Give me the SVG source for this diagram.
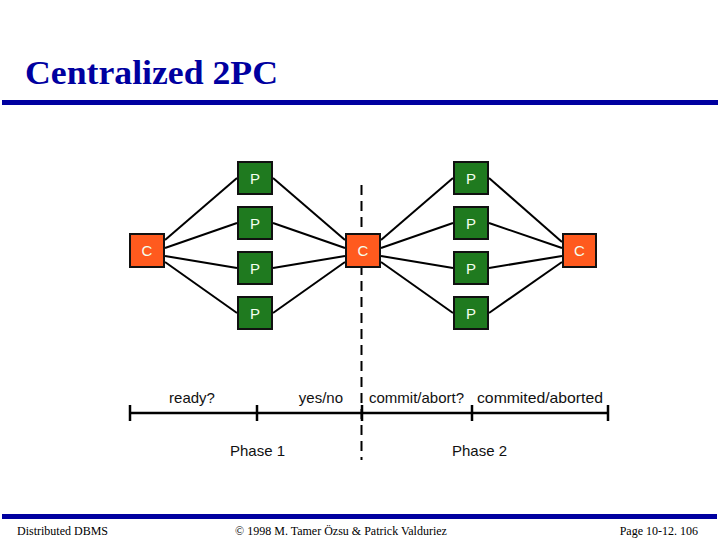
<svg xmlns="http://www.w3.org/2000/svg" width="720" height="540" viewBox="0 0 720 540">
<style>
.title{font-family:"Liberation Serif","Times New Roman",serif;font-weight:bold;font-size:33px;fill:#0000a0}
.bar{fill:#0000a0}
.p rect{fill:#1f7a1f;stroke:#111;stroke-width:2}
.c rect{fill:#ff5a1e;stroke:#111;stroke-width:2}
.lbl{font-family:"Liberation Sans",Arial,sans-serif;font-size:15px;fill:#f4fff0;text-anchor:middle}
.conn line{stroke:#000;stroke-width:2}
.tl line{stroke:#000;stroke-width:2.5}
.t{font-family:"Liberation Sans",Arial,sans-serif;font-size:15px;fill:#111}
.foot{font-family:"Liberation Serif","Times New Roman",serif;font-size:12px;fill:#000}
</style>
<rect width="720" height="540" fill="#fff"/>
<text class="title" x="25" y="84" textLength="253" lengthAdjust="spacingAndGlyphs">Centralized 2PC</text>
<rect class="bar" x="2" y="100" width="716" height="5"/>

<line x1="361.5" y1="185" x2="361.5" y2="460" stroke="#000" stroke-width="2" stroke-dasharray="10 6"/>

<g id="connectors" class="conn">
<line x1="165" y1="240" x2="237" y2="178"/>
<line x1="165" y1="248" x2="237" y2="223"/>
<line x1="165" y1="256" x2="237" y2="268"/>
<line x1="165" y1="262" x2="237" y2="313"/>
<line x1="273" y1="178" x2="345" y2="240"/>
<line x1="273" y1="223" x2="345" y2="248"/>
<line x1="273" y1="268" x2="345" y2="256"/>
<line x1="273" y1="313" x2="345" y2="262"/>
<line x1="381" y1="240" x2="453" y2="178"/>
<line x1="381" y1="248" x2="453" y2="223"/>
<line x1="381" y1="256" x2="453" y2="268"/>
<line x1="381" y1="262" x2="453" y2="313"/>
<line x1="489" y1="178" x2="562" y2="242"/>
<line x1="489" y1="223" x2="562" y2="248"/>
<line x1="489" y1="268" x2="562" y2="256"/>
<line x1="489" y1="313" x2="562" y2="262"/>
</g>

<g id="c1" class="c"><rect x="130" y="234" width="34" height="33"/><text class="lbl" x="147" y="256">C</text></g>
<g id="c2" class="c"><rect x="346" y="234" width="34" height="33"/><text class="lbl" x="363" y="256">C</text></g>
<g id="c3" class="c"><rect x="563" y="234" width="33" height="33"/><text class="lbl" x="579.5" y="256">C</text></g>

<g id="p1a" class="p"><rect x="238" y="162" width="34" height="32"/><text class="lbl" x="255" y="184">P</text></g>
<g id="p2a" class="p"><rect x="238" y="207" width="34" height="32"/><text class="lbl" x="255" y="229">P</text></g>
<g id="p3a" class="p"><rect x="238" y="252" width="34" height="32"/><text class="lbl" x="255" y="274">P</text></g>
<g id="p4a" class="p"><rect x="238" y="297" width="34" height="32"/><text class="lbl" x="255" y="319">P</text></g>
<g id="p1b" class="p"><rect x="454" y="162" width="34" height="32"/><text class="lbl" x="471" y="184">P</text></g>
<g id="p2b" class="p"><rect x="454" y="207" width="34" height="32"/><text class="lbl" x="471" y="229">P</text></g>
<g id="p3b" class="p"><rect x="454" y="252" width="34" height="32"/><text class="lbl" x="471" y="274">P</text></g>
<g id="p4b" class="p"><rect x="454" y="297" width="34" height="32"/><text class="lbl" x="471" y="319">P</text></g>

<g id="timeline" class="tl">
<line x1="130" y1="413" x2="608" y2="413"/>
<line x1="130" y1="405" x2="130" y2="421"/>
<line x1="257" y1="405" x2="257" y2="421"/>
<line x1="362" y1="405" x2="362" y2="421"/>
<line x1="472" y1="405" x2="472" y2="421"/>
<line x1="608" y1="405" x2="608" y2="421"/>
</g>
<text class="t" x="192" y="403" text-anchor="middle">ready?</text>
<text class="t" x="343" y="403" text-anchor="end">yes/no</text>
<text class="t" x="369" y="403">commit/abort?</text>
<text class="t" x="477" y="403" textLength="126" lengthAdjust="spacingAndGlyphs">commited/aborted</text>
<text class="t" x="257.5" y="456" text-anchor="middle">Phase 1</text>
<text class="t" x="479.5" y="456" text-anchor="middle">Phase 2</text>

<rect class="bar" x="2" y="514" width="715" height="5"/>
<text class="foot" x="17" y="535">Distributed DBMS</text>
<text class="foot" x="341" y="535" text-anchor="middle">© 1998 M. Tamer Özsu &amp; Patrick Valduriez</text>
<text class="foot" x="698" y="535" text-anchor="end">Page 10-12. 106</text>
</svg>
